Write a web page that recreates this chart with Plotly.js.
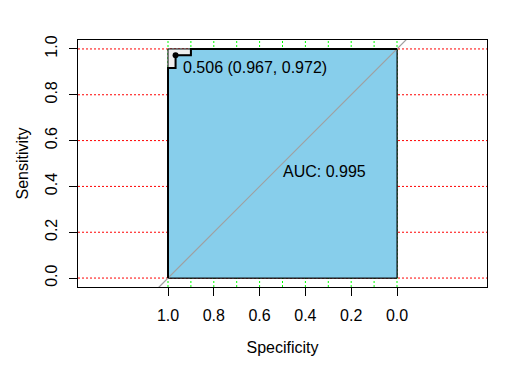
<!DOCTYPE html>
<html><head><meta charset="utf-8">
<script src="https://cdn.plot.ly/plotly-3.0.1.min.js"></script>
<style>html,body{margin:0;padding:0;background:#fff}#chart{width:528px;height:366px}</style>
</head><body><div id="chart"></div>
<script>
// ROC curve (specificity, sensitivity)
const specificity = [1, 1, 0.967, 0.967, 0.9, 0.9, 0];
const sensitivity = [0, 0.917, 0.917, 0.972, 0.972, 1, 1];
const thresholdValue = 0.506;
const thresholdSpec = 0.967;
const thresholdSens = 0.972;
const aucValue = 0.995;
const xTickVals = [1.0, 0.8, 0.6, 0.4, 0.2, 0.0];
const xTickText = ["1.0", "0.8", "0.6", "0.4", "0.2", "0.0"];
const yTickVals = [0.0, 0.2, 0.4, 0.6, 0.8, 1.0];
const yTickText = ["0.0", "0.2", "0.4", "0.6", "0.8", "1.0"];
const gridV = [0, 0.1, 0.2, 0.3, 0.4, 0.5, 0.6, 0.7, 0.8, 0.9, 1.0];
const gridH = [0, 0.2, 0.4, 0.6, 0.8, 1.0];

const xRange = [1.393, -0.393];
const yRange = [-0.039, 1.039];
const font = "Liberation Sans, Arial, sans-serif";

const shapes = [];
gridH.forEach(v => shapes.push({type:'line', layer:'below', xref:'x', yref:'y', x0:xRange[0], x1:xRange[1], y0:v, y1:v,
  line:{color:'#FF0000', width:1, dash:'2px,2px'}}));
gridV.forEach(v => shapes.push({type:'line', layer:'below', xref:'x', yref:'y', x0:v, x1:v, y0:yRange[0], y1:yRange[1],
  line:{color:'#00FF00', width:1, dash:'2px,2px'}}));

const maxX = [1, 1, 0, 0, 1], maxY = [0, 1, 1, 0, 0];
const polyX = [1].concat(specificity, [0, 1]);
const polyY = [0].concat(sensitivity, [0, 0]);
const diagX = [xRange[0] + 1, xRange[1] - 1];
const diagY = diagX.map(x => 1 - x);

const traces = [
  {x:maxX, y:maxY, mode:'lines', fill:'toself', fillcolor:'#EEEEEE', line:{color:'#000', width:1}, hoverinfo:'skip'},
  {x:polyX, y:polyY, mode:'lines', fill:'toself', fillcolor:'#87CEEB', line:{color:'#000', width:1}, hoverinfo:'skip'},
  {x:diagX, y:diagY, mode:'lines', line:{color:'#A0A0A0', width:1.2}, hoverinfo:'skip'},
  {x:specificity, y:sensitivity, mode:'lines', line:{color:'#000', width:2}, hoverinfo:'skip'},
  {x:[thresholdSpec], y:[thresholdSens], mode:'markers', marker:{color:'#000', size:6}, hoverinfo:'skip'}
];

const layout = {
  width:528, height:366, showlegend:false,
  paper_bgcolor:'#fff', plot_bgcolor:'#fff',
  margin:{l:78, r:41, t:40, b:79, pad:0},
  font:{family:font, size:16, color:'#000'},
  xaxis:{range:xRange, tickvals:xTickVals, ticktext:xTickText, showgrid:false, zeroline:false,
    showline:true, mirror:true, linecolor:'#000', linewidth:1, ticks:'outside', ticklen:8, tickcolor:'#000',
    ticklabelstandoff:6,
    tickfont:{size:16, family:font}, title:{text:'Specificity', font:{size:16, family:font}, standoff:18}},
  yaxis:{range:yRange, tickvals:yTickVals, ticktext:yTickText, showgrid:false, zeroline:false,
    showline:true, mirror:true, linecolor:'#000', linewidth:1, ticks:'outside', ticklen:8, tickcolor:'#000',
    ticklabelstandoff:6,
    tickangle:-90, tickfont:{size:16, family:font}, title:{text:'Sensitivity', font:{size:16, family:font}, standoff:9}},
  shapes:shapes,
  annotations:[
    {x:thresholdSpec, y:thresholdSens, xref:'x', yref:'y', showarrow:false, xanchor:'left', yanchor:'top',
     xshift:5, yshift:-2, text: thresholdValue.toFixed(3) + ' (' + thresholdSpec.toFixed(3) + ', ' + thresholdSens.toFixed(3) + ')',
     font:{size:16, family:font}},
    {x:0.5, y:0.5, xref:'x', yref:'y', showarrow:false, xanchor:'left', yanchor:'top', xshift:-2, yshift:3,
     text:'AUC: ' + aucValue.toFixed(3), font:{size:16, family:font}}
  ]
};
Plotly.newPlot('chart', traces, layout, {displayModeBar:false, staticPlot:true});
</script></body></html>
